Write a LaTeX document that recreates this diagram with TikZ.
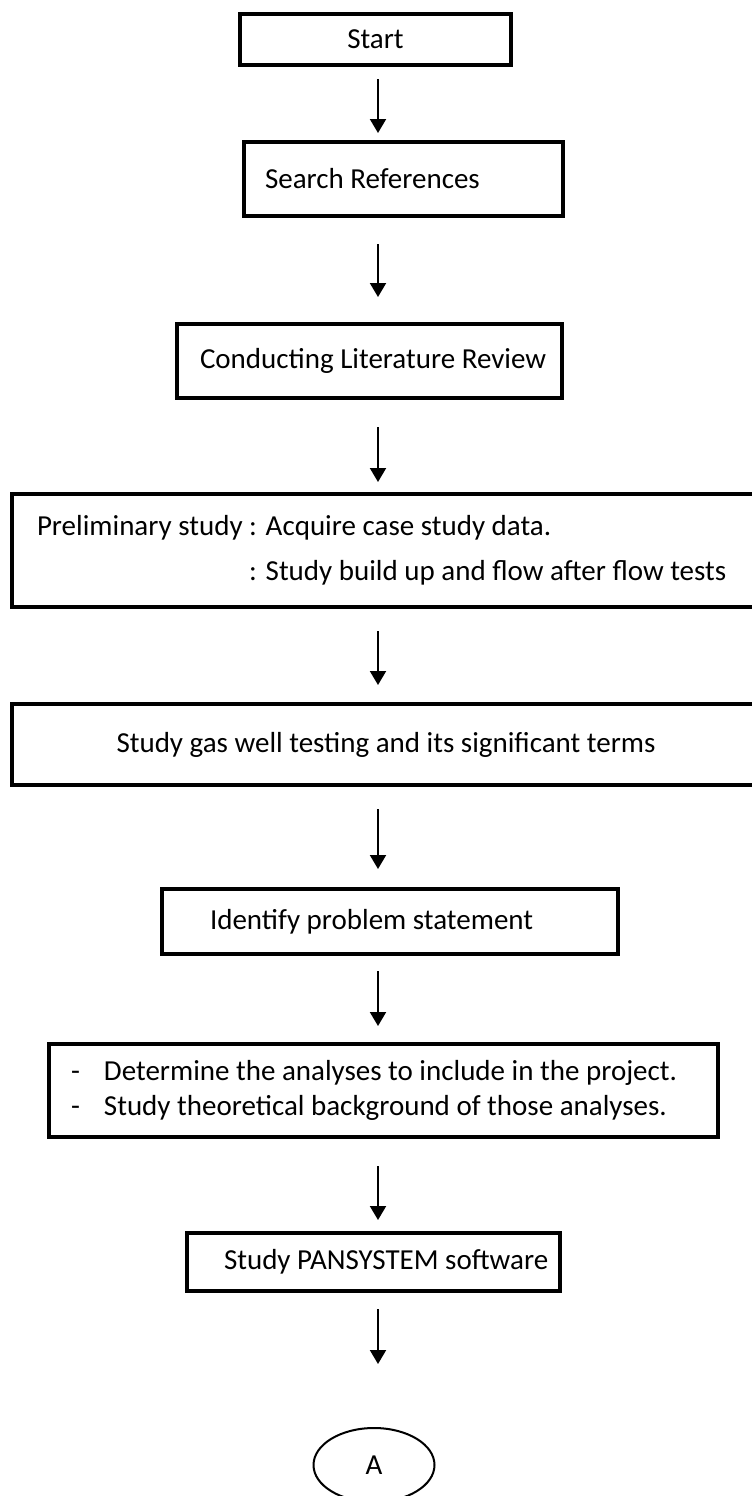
\documentclass[tikz,border=0pt]{standalone}
\usepackage{fontspec}
\setmainfont{Carlito}
\usetikzlibrary{arrows.meta,shapes.geometric}

\tikzset{
  blk/.style={draw, line width=4pt, rectangle, anchor=north west, inner sep=0pt},
  arr/.style={-{Triangle[length=14pt,width=16pt]}, line width=2pt},
}

\begin{document}
\begin{tikzpicture}[x=1pt,y=-1pt,font=\fontsize{29}{35}\selectfont]
    \useasboundingbox (0,0) rectangle (752,1496);
    \coordinate (axis) at (378,0);
    \node[blk,minimum height=51pt] (start) at (238,12) {\makebox[271pt]{Start}};
    \node[blk,minimum height=74pt] (search) at (242,140) {\makebox[319pt][l]{\hspace*{21pt}Search References}};
    \node[blk,minimum height=74pt] (review) at (175,322) {\makebox[385pt][l]{\hspace*{23pt}Conducting Literature Review}};
    \node[blk,minimum height=113pt] (prelim) at (10,492)
      {\makebox[748pt][l]{\hspace*{25pt}\begin{tabular}{@{}l@{}}
       Preliminary study : Acquire case study data.\\[10pt]
       \phantom{Preliminary study }: Study build up and flow after flow tests\end{tabular}}};
    \node[blk,minimum height=81pt] (gaswell) at (10,702) {\makebox[748pt]{Study gas well testing and its significant terms}};
    \node[blk,minimum height=65pt] (problem) at (160,887) {\makebox[456pt][l]{\hspace*{48pt}Identify problem statement}};
    \node[blk,minimum height=93pt] (analyses) at (47,1042)
      {\makebox[669pt][l]{\hspace*{22pt}\begin{tabular}{@{}l@{}}
       \makebox[33pt][l]{-}Determine the analyses to include in the project.\\
       \makebox[33pt][l]{-}Study theoretical background of those analyses.\end{tabular}}};
    \node[blk,minimum height=58pt] (software) at (185,1231) {\makebox[373pt][l]{\hspace*{37pt}Study PANSYSTEM software}};
    \node[draw,ellipse,line width=2pt,minimum width=121pt,minimum height=74pt] (conn) at (374,1465) {A};
    % arrows down the chart
    \draw[arr,shorten <=12pt,shorten >=7pt] (start.south -| axis) -- (search.north -| axis);
    \draw[arr,shorten <=26pt,shorten >=25pt] (search.south -| axis) -- (review.north -| axis);
    \draw[arr,shorten <=27pt,shorten >=10pt] (review.south -| axis) -- (prelim.north -| axis);
    \draw[arr,shorten <=22pt,shorten >=17pt] (prelim.south -| axis) -- (gaswell.north -| axis);
    \draw[arr,shorten <=22pt,shorten >=18pt] (gaswell.south -| axis) -- (problem.north -| axis);
    \draw[arr,shorten <=15pt,shorten >=16pt] (problem.south -| axis) -- (analyses.north -| axis);
    \draw[arr,shorten <=27pt,shorten >=11pt] (analyses.south -| axis) -- (software.north -| axis);
    \draw[arr,shorten <=16pt,shorten >=63pt] (software.south -| axis) -- (conn.north -| axis);
\end{tikzpicture}
\end{document}
